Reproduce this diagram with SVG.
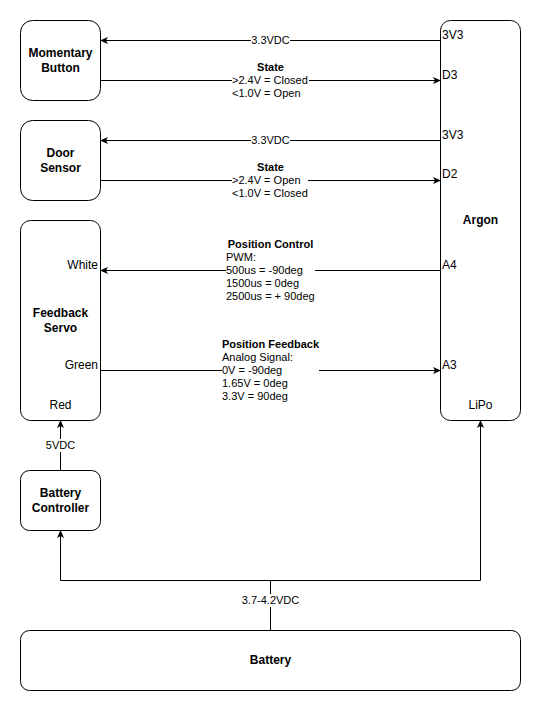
<svg xmlns="http://www.w3.org/2000/svg" width="542" height="711" viewBox="0 0 542 711">
<defs>
<marker id="arr" viewBox="0 0 8 7" refX="7.5" refY="3.5" markerWidth="8" markerHeight="7" markerUnits="userSpaceOnUse" orient="auto">
<path d="M0,0 L8,3.5 L0,7 L2,3.5 Z" fill="#000"/>
</marker>
<style>
.node{fill:#fff;stroke:#000;stroke-width:1}
.title{font-family:"Liberation Sans",Arial,sans-serif;font-size:12px;font-weight:bold;fill:#000;text-anchor:middle}
.pin{font-family:"Liberation Sans",Arial,sans-serif;font-size:12px;fill:#000}
.lbl{font-family:"Liberation Sans",Arial,sans-serif;font-size:11px;fill:#000}
.lblb{font-family:"Liberation Sans",Arial,sans-serif;font-size:11px;font-weight:bold;fill:#000;text-anchor:middle}
.edge{fill:none;stroke:#000;stroke-width:1}
.bg{fill:#fff}
</style>
</defs>
<rect width="542" height="711" fill="#fff"/>

<g id="connectors">
<path class="edge" d="M440.5,40.5 L100.5,40.5" marker-end="url(#arr)"/>
<path class="edge" d="M100.5,80.5 L440.5,80.5" marker-end="url(#arr)"/>
<path class="edge" d="M440.5,140.5 L100.5,140.5" marker-end="url(#arr)"/>
<path class="edge" d="M100.5,180.5 L440.5,180.5" marker-end="url(#arr)"/>
<path class="edge" d="M440.5,270.5 L100.5,270.5" marker-end="url(#arr)"/>
<path class="edge" d="M100.5,370.5 L440.5,370.5" marker-end="url(#arr)"/>
<path class="edge" d="M60.5,470.5 L60.5,420.5" marker-end="url(#arr)"/>
<path class="edge" d="M270.5,630.5 L270.5,580.5 L60.5,580.5 L60.5,530.5" marker-end="url(#arr)"/>
<path class="edge" d="M270.5,580.5 L480.5,580.5 L480.5,420.5" marker-end="url(#arr)"/>

<rect class="bg" x="251" y="34" width="39" height="13"/>
<text class="lbl" x="270.5" y="44" text-anchor="middle">3.3VDC</text>

<rect class="bg" x="232" y="74" width="77" height="13"/>
<text class="lblb" x="270.5" y="71">State</text>
<text class="lbl" x="232" y="84">&gt;2.4V = Closed</text>
<text class="lbl" x="232" y="97">&lt;1.0V = Open</text>

<rect class="bg" x="251" y="134" width="39" height="13"/>
<text class="lbl" x="270.5" y="144" text-anchor="middle">3.3VDC</text>

<rect class="bg" x="232" y="174" width="76" height="13"/>
<text class="lblb" x="270.5" y="171">State</text>
<text class="lbl" x="232" y="184">&gt;2.4V = Open</text>
<text class="lbl" x="232" y="197">&lt;1.0V = Closed</text>

<rect class="bg" x="226" y="264" width="89" height="13"/>
<text class="lblb" x="270.5" y="248">Position Control</text>
<text class="lbl" x="226" y="261">PWM:</text>
<text class="lbl" x="226" y="274">500us = -90deg</text>
<text class="lbl" x="226" y="287">1500us = 0deg</text>
<text class="lbl" x="226" y="300">2500us = + 90deg</text>

<rect class="bg" x="222" y="364" width="97" height="13"/>
<text class="lblb" x="270.5" y="348">Position Feedback</text>
<text class="lbl" x="222" y="361">Analog Signal:</text>
<text class="lbl" x="222" y="374">0V = -90deg</text>
<text class="lbl" x="222" y="387">1.65V = 0deg</text>
<text class="lbl" x="222" y="400">3.3V = 90deg</text>

<rect class="bg" x="45" y="439" width="31" height="13"/>
<text class="lbl" x="60.5" y="449" text-anchor="middle">5VDC</text>

<rect class="bg" x="241" y="594" width="59" height="13"/>
<text class="lbl" x="270.5" y="604" text-anchor="middle">3.7-4.2VDC</text>
</g>

<g id="momentary-button">
<rect class="node" x="20.5" y="20.5" width="80" height="80" rx="12"/>
<text class="title" x="60.5" y="57">Momentary</text>
<text class="title" x="60.5" y="72">Button</text>
</g>

<g id="door-sensor">
<rect class="node" x="20.5" y="120.5" width="80" height="80" rx="12"/>
<text class="title" x="60.5" y="157">Door</text>
<text class="title" x="60.5" y="172">Sensor</text>
</g>

<g id="feedback-servo">
<rect class="node" x="20.5" y="220.5" width="80" height="200" rx="10"/>
<text class="title" x="60.5" y="317">Feedback</text>
<text class="title" x="60.5" y="332">Servo</text>
<text class="pin" x="98" y="269" text-anchor="end">White</text>
<text class="pin" x="98" y="369" text-anchor="end">Green</text>
<text class="pin" x="60.5" y="409" text-anchor="middle">Red</text>
</g>

<g id="argon">
<rect class="node" x="440.5" y="20.5" width="80" height="400" rx="10"/>
<text class="title" x="480.5" y="224">Argon</text>
<text class="pin" x="442" y="39">3V3</text>
<text class="pin" x="442" y="79">D3</text>
<text class="pin" x="442" y="139">3V3</text>
<text class="pin" x="442" y="178">D2</text>
<text class="pin" x="442" y="269">A4</text>
<text class="pin" x="442" y="369">A3</text>
<text class="pin" x="480.5" y="409" text-anchor="middle">LiPo</text>
</g>

<g id="battery-controller">
<rect class="node" x="20.5" y="470.5" width="80" height="60" rx="9"/>
<text class="title" x="60.5" y="497">Battery</text>
<text class="title" x="60.5" y="512">Controller</text>
</g>

<g id="battery">
<rect class="node" x="20.5" y="630.5" width="500" height="60" rx="9"/>
<text class="title" x="270.5" y="664">Battery</text>
</g>
</svg>
